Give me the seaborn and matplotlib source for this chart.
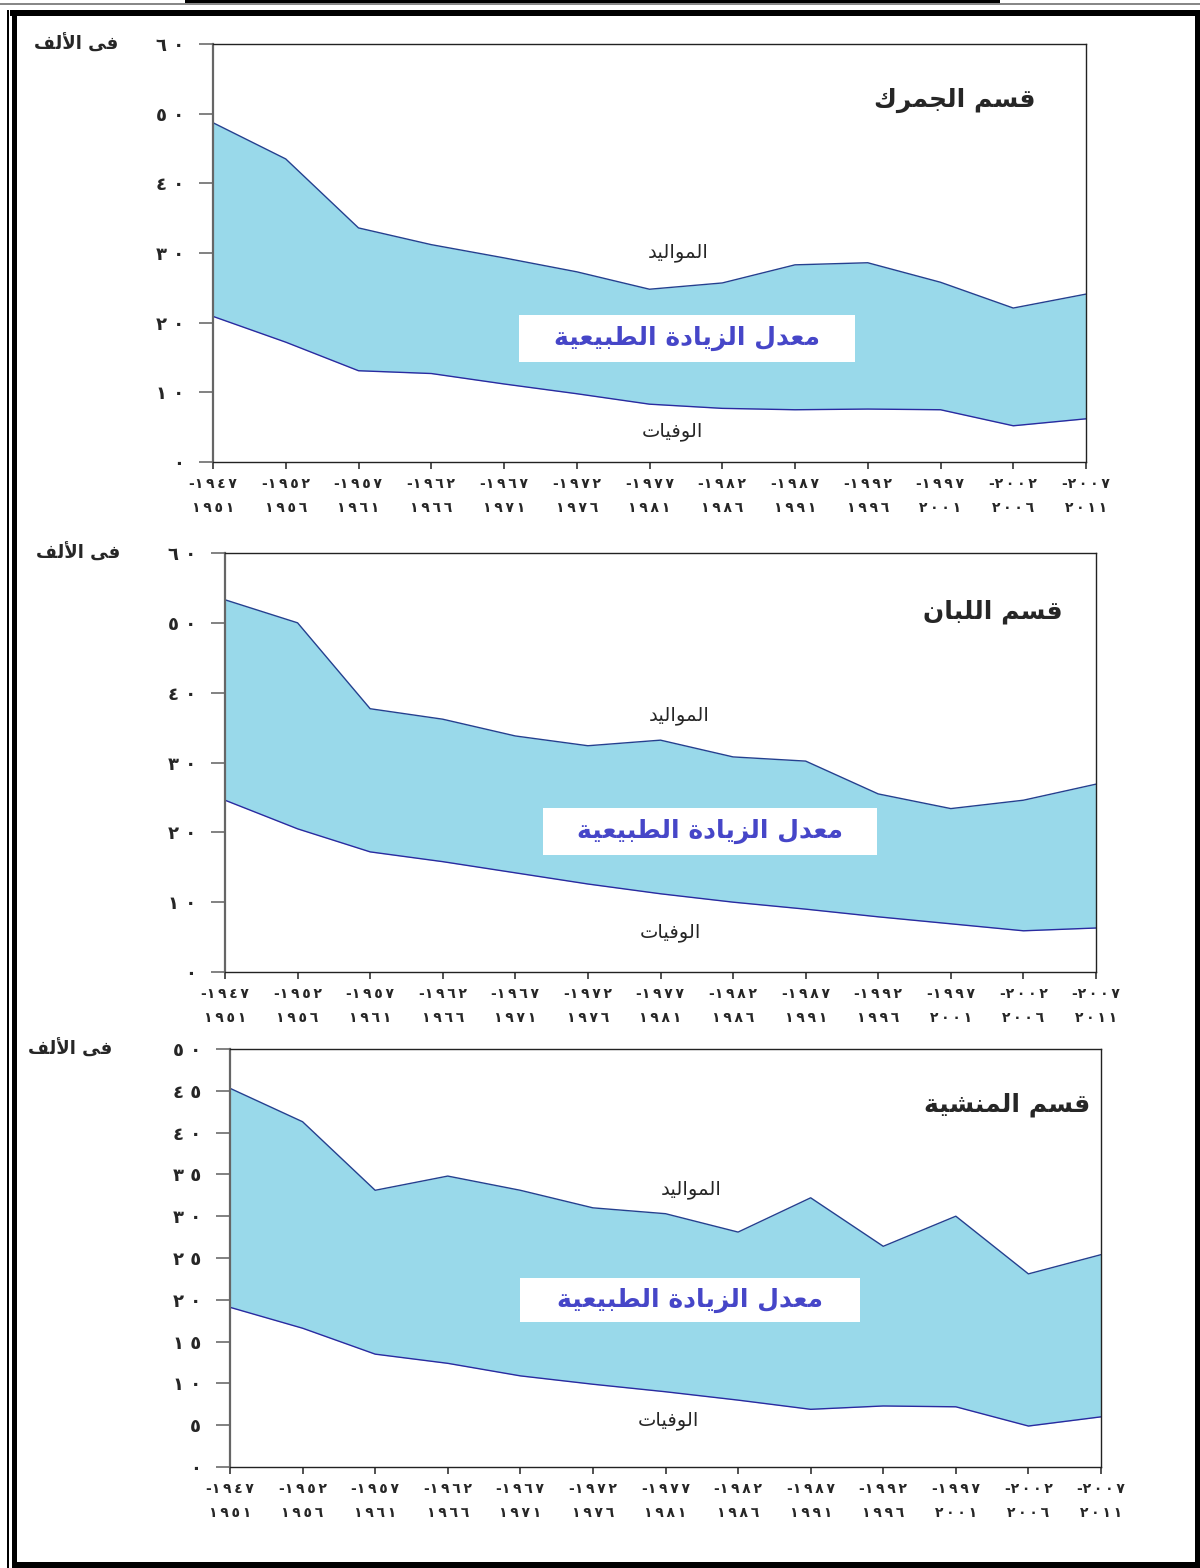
import matplotlib
matplotlib.use("Agg")
import matplotlib.pyplot as plt
from matplotlib.patches import Rectangle
import pandas as pd
import seaborn as sns

# ---- data (per thousand) ----
start_years = ["1947", "1952", "1957", "1962", "1967", "1972", "1977",
               "1982", "1987", "1992", "1997", "2002", "2007"]
end_years = ["1951", "1956", "1961", "1966", "1971", "1976", "1981",
             "1986", "1991", "1996", "2001", "2006", "2011"]

gomrok_births = [48.7, 43.5, 33.6, 31.2, 29.3, 27.3, 24.8, 25.7, 28.3, 28.6, 25.8, 22.1, 24.1]
gomrok_deaths = [20.9, 17.2, 13.1, 12.7, 11.2, 9.8, 8.3, 7.7, 7.5, 7.6, 7.5, 5.2, 6.2]

labban_births = [53.3, 50.0, 37.7, 36.2, 33.8, 32.4, 33.2, 30.8, 30.2, 25.5, 23.4, 24.6, 26.9]
labban_deaths = [24.6, 20.5, 17.2, 15.8, 14.2, 12.6, 11.2, 10.0, 9.0, 7.9, 6.9, 5.9, 6.3]

manshia_births = [45.3, 41.3, 33.1, 34.8, 33.1, 31.0, 30.3, 28.1, 32.2, 26.4, 30.0, 23.1, 25.4]
manshia_deaths = [19.1, 16.6, 13.5, 12.4, 10.9, 9.9, 9.0, 8.0, 6.9, 7.3, 7.2, 4.9, 6.0]

district_titles = ["قسم الجمرك", "قسم اللبان", "قسم المنشية"]
births_label = "المواليد"
deaths_label = "الوفيات"
increase_label = "معدل الزيادة الطبيعية"
unit_label = "فى الألف"


# ---- minimal arabic shaping (matplotlib has no bidi / joining) ----
FORMS = {
    "ا": ("\uFE8D", "\uFE8E", None, None),
    "أ": ("\uFE83", "\uFE84", None, None),
    "ب": ("\uFE8F", "\uFE90", "\uFE91", "\uFE92"),
    "ة": ("\uFE93", "\uFE94", None, None),
    "ت": ("\uFE95", "\uFE96", "\uFE97", "\uFE98"),
    "ج": ("\uFE9D", "\uFE9E", "\uFE9F", "\uFEA0"),
    "د": ("\uFEA9", "\uFEAA", None, None),
    "ر": ("\uFEAD", "\uFEAE", None, None),
    "ز": ("\uFEAF", "\uFEB0", None, None),
    "س": ("\uFEB1", "\uFEB2", "\uFEB3", "\uFEB4"),
    "ش": ("\uFEB5", "\uFEB6", "\uFEB7", "\uFEB8"),
    "ط": ("\uFEC1", "\uFEC2", "\uFEC3", "\uFEC4"),
    "ع": ("\uFEC9", "\uFECA", "\uFECB", "\uFECC"),
    "ف": ("\uFED1", "\uFED2", "\uFED3", "\uFED4"),
    "ق": ("\uFED5", "\uFED6", "\uFED7", "\uFED8"),
    "ك": ("\uFED9", "\uFEDA", "\uFEDB", "\uFEDC"),
    "ل": ("\uFEDD", "\uFEDE", "\uFEDF", "\uFEE0"),
    "م": ("\uFEE1", "\uFEE2", "\uFEE3", "\uFEE4"),
    "ن": ("\uFEE5", "\uFEE6", "\uFEE7", "\uFEE8"),
    "و": ("\uFEED", "\uFEEE", None, None),
    "ى": ("\uFEEF", "\uFEF0", None, None),
    "ي": ("\uFEF1", "\uFEF2", "\uFEF3", "\uFEF4"),
    "لا": ("\uFEFB", "\uFEFC", None, None),
    "لأ": ("\uFEF7", "\uFEF8", None, None),
}


def shape(text):
    units = []
    i = 0
    while i < len(text):
        if text[i] == "ل" and i + 1 < len(text) and text[i + 1] in "اأ":
            units.append(text[i:i + 2])
            i += 2
        else:
            units.append(text[i])
            i += 1
    out = []
    for k, u in enumerate(units):
        if u not in FORMS:
            out.append(u)
            continue
        iso, fin, ini, med = FORMS[u]
        prev = units[k - 1] if k > 0 else None
        nxt = units[k + 1] if k + 1 < len(units) else None
        joins_prev = prev in FORMS and FORMS[prev][2] is not None
        joins_next = ini is not None and nxt in FORMS
        if joins_prev and joins_next:
            out.append(med)
        elif joins_prev:
            out.append(fin)
        elif joins_next:
            out.append(ini)
        else:
            out.append(iso)
    return "".join(reversed(out))


AR_DIGITS = str.maketrans("0123456789", "٠١٢٣٤٥٦٧٨٩")


def ar_num(s, sep=" "):
    return sep.join(str(s).translate(AR_DIGITS))


sns.set_theme(style="white")
plt.rcParams["font.family"] = ["DejaVu Sans"]

FILL = "#99d9ea"
LINE = "#24408f"
BOX_TEXT = "#4646c8"

W, H = 1200, 1568
fig = plt.figure(figsize=(12, 15.68), dpi=100)
fig.patch.set_facecolor("white")

# panel geometry in pixels: left, right, top, bottom
panels = [
    dict(box=(213, 1086, 44, 462), births=gomrok_births, deaths=gomrok_deaths,
         ymax=60, ystep=10, unit_x=-0.108,
         title=(0.85, 0.866), b=(0.533, 0.50), d=(0.526, 0.072),
         inc=(0.3505, 0.2392, 0.385, 0.1124)),
    dict(box=(225, 1096, 553, 972), births=labban_births, deaths=labban_deaths,
         ymax=60, ystep=10, unit_x=-0.12,
         title=(0.881, 0.859), b=(0.521, 0.611), d=(0.511, 0.095),
         inc=(0.365, 0.279, 0.3835, 0.112)),
    dict(box=(230, 1101, 1049, 1467), births=manshia_births, deaths=manshia_deaths,
         ymax=50, ystep=5, unit_x=-0.135,
         title=(0.892, 0.866), b=(0.529, 0.663), d=(0.503, 0.112),
         inc=(0.333, 0.347, 0.390, 0.105)),
]

xlabels = ["-" + ar_num(s, "\u2009") + "\n" + ar_num(e, "\u2009")
           for s, e in zip(start_years, end_years)]

for p, title in zip(panels, district_titles):
    l, r, t, b = p["box"]
    ax = fig.add_axes([l / W, 1 - b / H, (r - l) / W, (b - t) / H])
    pos = list(range(len(start_years)))
    df = pd.DataFrame({
        "period": pos * 2,
        "rate": p["births"] + p["deaths"],
        "series": ["births"] * len(pos) + ["deaths"] * len(pos),
    })
    ax.fill_between(pos, p["deaths"], p["births"], color=FILL, lw=0, zorder=1)
    sns.lineplot(data=df, x="period", y="rate", hue="series",
                 palette=[LINE, "#2a2aa0"], linewidth=1.0, legend=False,
                 ax=ax, zorder=2)

    ax.set_xlim(0, len(pos) - 1)
    ax.set_ylim(0, p["ymax"])
    yt = list(range(0, p["ymax"] + 1, p["ystep"]))
    ax.set_yticks(yt)
    ax.set_yticklabels([ar_num(v) for v in yt], fontsize=13, fontweight="bold")
    ax.set_xticks(pos)
    ax.set_xticklabels(xlabels, fontsize=10, fontweight="bold", linespacing=1.9)
    ax.set_xlabel("")
    ax.set_ylabel("")
    ax.tick_params(axis="y", direction="out", length=10, width=1.3, color="#777777",
                   pad=11, left=True)
    ax.tick_params(axis="x", direction="out", length=5, width=1.2, color="#333333",
                   pad=6, bottom=True)
    for side in ["top", "right", "bottom"]:
        ax.spines[side].set_visible(True)
        ax.spines[side].set_color("#222222")
        ax.spines[side].set_linewidth(1.0)
    ax.spines["left"].set_color("#666666")
    ax.spines["left"].set_linewidth(1.6)
    ax.grid(False)

    ax.text(p["unit_x"], 1.0, shape(unit_label), transform=ax.transAxes,
            ha="right", va="center", fontsize=13, fontweight="bold")
    ax.text(*p["title"], shape(title), transform=ax.transAxes,
            ha="center", va="center", fontsize=18, fontweight="bold")
    ax.text(*p["b"], shape(births_label), transform=ax.transAxes,
            ha="center", va="center", fontsize=14)
    ax.text(*p["d"], shape(deaths_label), transform=ax.transAxes,
            ha="center", va="center", fontsize=14)
    bx, by, bw, bh = p["inc"]
    ax.add_patch(Rectangle((bx, by), bw, bh, transform=ax.transAxes,
                           fc="white", ec="none", zorder=3))
    ax.text(bx + bw / 2, by + bh / 2, shape(increase_label), transform=ax.transAxes,
            ha="center", va="center", fontsize=18, fontweight="bold", color=BOX_TEXT,
            zorder=4)


# ---- page frame ----
def bar(x0, y0, x1, y1, color="black"):
    fig.add_artist(Rectangle((x0 / W, 1 - y1 / H), (x1 - x0) / W, (y1 - y0) / H,
                             transform=fig.transFigure, color=color, lw=0))


bar(185, 0, 1000, 3)
bar(0, 3, 1200, 4.5, "#888888")
bar(10, 10, 1200, 16)
bar(7, 10, 9, 1568)
bar(12, 10, 17, 1568)
bar(1195, 10, 1200, 1568)
bar(12, 1562, 1200, 1568)

fig.savefig("out.png", dpi=100)
